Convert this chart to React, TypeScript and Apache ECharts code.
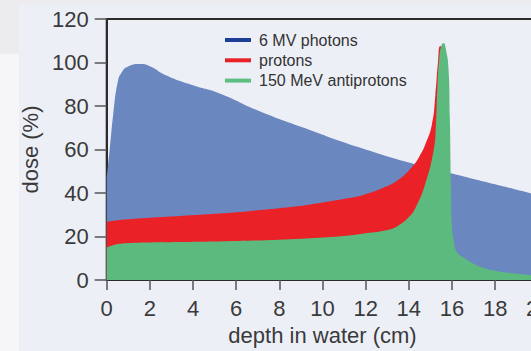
import React, { useEffect, useRef } from "react";
import * as echarts from "echarts";

// Depth-dose curves in water: [depth (cm), relative dose (%)]
const photons: [number, number][] = [
  [0, 47], [0.15, 61], [0.3, 76], [0.52, 91.5], [0.7, 95.5], [0.92, 97.8],
  [1.54, 99.3], [2.0, 98.3], [2.77, 94], [4.0, 89.5],
  [5.23, 85.8], [7, 78], [9, 70.5], [11.69, 61], [14, 54], [16, 49],
  [18, 44], [19.6, 40], [20, 39],
];

const protons: [number, number][] = [
  [0, 26.8], [0.5, 27.5], [1, 28], [2, 28.7], [3.4, 29.5], [5, 30.5],
  [6.6, 31.7], [8, 33], [8.9, 34], [10, 35.7], [11.23, 37.7], [12, 39.5],
  [12.76, 42.2], [13.5, 46], [14.15, 52], [14.5, 57], [14.77, 62.5],
  [15.07, 71.5], [15.23, 85], [15.35, 100], [15.45, 107.5], [15.55, 107],
  [15.65, 96], [15.75, 60], [15.85, 20], [15.92, 0],
];

const antiprotons: [number, number][] = [
  [0, 15], [0.3, 16], [0.7, 16.8], [1.5, 17.2], [3.4, 17.5], [6, 18],
  [8, 18.6], [10, 19.6], [11.2, 20.5], [12, 21.5], [13, 23], [13.5, 25],
  [14, 29], [14.3, 33], [14.77, 44.5], [15.15, 59.7], [15.25, 70],
  [15.32, 88], [15.42, 103], [15.52, 108], [15.61, 109], [15.72, 106],
  [15.84, 97], [15.9, 75], [15.95, 45], [16.0, 25], [16.08, 18],
  [16.15, 14.5], [16.3, 12], [16.6, 10], [17.0, 7.5], [17.5, 5.5],
  [18.0, 4.3], [18.5, 3.5], [19.5, 2.5], [20, 2.3],
];

const seriesNames = ["6 MV photons", "protons", "150 MeV antiprotons"];
const fillColors = ["#6b87c0", "#ea2126", "#5cba7e"];
const legendColors = ["#1e3d94", "#e82127", "#5cbf80"];

const xTicks = { min: 0, max: 20, interval: 2 };
const yTicks = { min: 0, max: 120, interval: 20 };

const FONT = "'Liberation Sans', Arial, sans-serif";

// The plot runs past the right edge of the visible frame
const CHART_W = 560;
const CHART_H = 351;

export default function App() {
  const ref = useRef<HTMLDivElement>(null);

  useEffect(() => {
    if (!ref.current) return;
    const chart = echarts.init(ref.current, undefined, { renderer: "svg" });
    const datasets = [photons, protons, antiprotons];

    chart.setOption({
      animation: false,
      textStyle: { fontFamily: FONT },
      grid: {
        left: 106.7,
        top: 19,
        right: CHART_W - 538.3,
        bottom: 65.5,
        show: true,
        borderColor: "#2b2b2b",
        borderWidth: 2,
        backgroundColor: "transparent",
      },
      legend: {
        orient: "vertical",
        left: 225,
        top: 32,
        padding: 0,
        itemGap: 4.3,
        itemWidth: 26,
        itemHeight: 4,
        icon: "rect",
        textStyle: {
          fontFamily: FONT,
          fontSize: 16,
          lineHeight: 16,
          color: "#333",
          padding: [0, 0, 0, 3],
        },
        data: seriesNames.map((name, i) => ({
          name,
          itemStyle: { color: legendColors[i] },
        })),
      },
      xAxis: {
        type: "value",
        ...xTicks,
        name: "depth in water (cm)",
        nameLocation: "middle",
        nameGap: 40,
        nameTextStyle: { fontFamily: FONT, fontSize: 22, color: "#3a3a3a" },
        axisLine: { show: true, lineStyle: { color: "#2b2b2b", width: 2 } },
        axisTick: { show: true, length: 10, lineStyle: { color: "#555", width: 1.5 } },
        axisLabel: { fontFamily: FONT, fontSize: 22, color: "#3a3a3a", margin: 17 },
        splitLine: { show: false },
      },
      yAxis: {
        type: "value",
        ...yTicks,
        name: "dose (%)",
        nameLocation: "middle",
        nameGap: 61,
        nameTextStyle: { fontFamily: FONT, fontSize: 22, color: "#3a3a3a" },
        axisLine: { show: true, lineStyle: { color: "#2b2b2b", width: 2 } },
        axisTick: { show: true, length: 12, lineStyle: { color: "#555", width: 1.5 } },
        axisLabel: { fontFamily: FONT, fontSize: 22, color: "#3a3a3a", margin: 18 },
        splitLine: { show: false },
      },
      series: datasets.map((data, i) => ({
        name: seriesNames[i],
        type: "line",
        data,
        smooth: 0.5,
        showSymbol: false,
        symbol: "none",
        lineStyle: { width: 0, color: fillColors[i] },
        itemStyle: { color: fillColors[i] },
        areaStyle: { color: fillColors[i], opacity: 1 },
        z: 2 + i,
      })),
    });

    return () => chart.dispose();
  }, []);

  return (
    <div
      style={{
        position: "fixed",
        left: 0,
        top: 0,
        width: 531,
        height: 351,
        overflow: "hidden",
        background: "#ececef",
      }}
    >
      <div
        style={{
          position: "absolute",
          left: 19,
          top: 5,
          right: 0,
          bottom: 0,
          background: "#edeff7",
        }}
      />
      <div
        style={{
          position: "absolute",
          left: 0,
          top: 54,
          width: 19,
          bottom: 0,
          background: "#f6f6f8",
        }}
      />
      <div
        ref={ref}
        style={{ position: "absolute", left: 0, top: 0, width: CHART_W, height: CHART_H }}
      />
    </div>
  );
}
